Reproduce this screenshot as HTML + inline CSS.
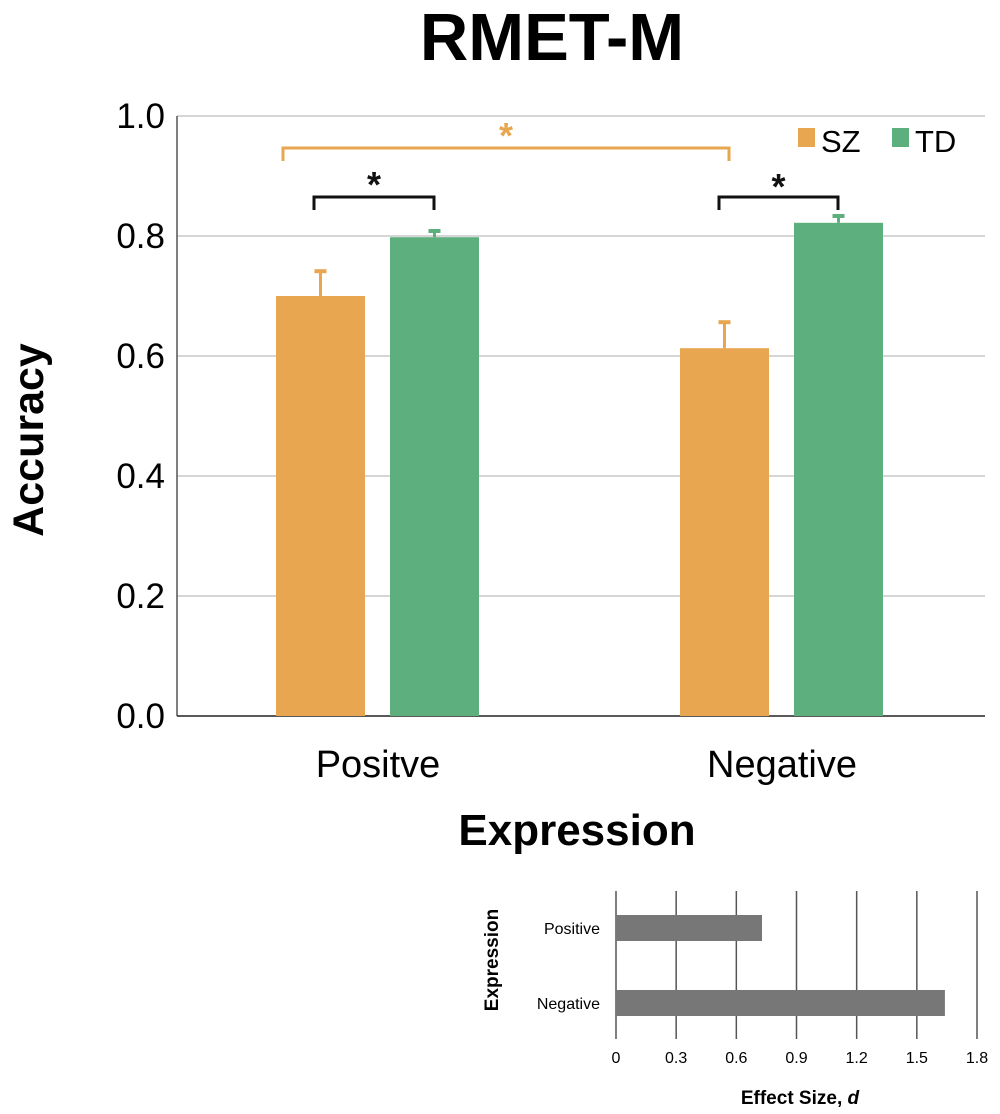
<!DOCTYPE html>
<html><head><meta charset="utf-8"><style>
body{margin:0;background:#fff}
svg{display:block;font-family:"Liberation Sans",Arial,sans-serif}
</style></head><body>
<svg id="c" width="1000" height="1114" xmlns="http://www.w3.org/2000/svg"></svg>
<script>
const categories=["Positve","Negative"];
const szValues=[0.70,0.613];
const szErr=[0.043,0.045];
const tdValues=[0.798,0.822];
const tdErr=[0.012,0.013];
const yTicks=["0.0","0.2","0.4","0.6","0.8","1.0"];
const effCategories=["Positive","Negative"];
const effValues=[0.728,1.64];
const effTicks=["0","0.3","0.6","0.9","1.2","1.5","1.8"];

const svg=document.getElementById('c');
const NS="http://www.w3.org/2000/svg";
function mk(tag,attrs,text){const e=document.createElementNS(NS,tag);for(const k in attrs)e.setAttribute(k,attrs[k]);if(text!=null)e.textContent=text;svg.appendChild(e);return e;}
const y=v=>716-v*600;
const ORANGE="#e8a651",GREEN="#5daf7e";

let t=mk('text',{x:552,y:60,'font-size':67,'font-weight':'bold','text-anchor':'middle'},'RMET-M');


yTicks.forEach((lab,i)=>{const v=parseFloat(lab);
 if(v>0){const g=mk('line',{x1:177,x2:985,y1:y(v),y2:y(v),stroke:'#c8c8c8','stroke-width':1.5});
 }
 const tx=mk('text',{x:165,y:y(v)+12,'font-size':35,'text-anchor':'end'},lab);
 });
let ax=mk('line',{x1:177,x2:177,y1:116,y2:716,stroke:'#555','stroke-width':1.5});

ax=mk('line',{x1:177,x2:985,y1:716,y2:716,stroke:'#222','stroke-width':1.5});


const groupStart=[276,680];
categories.forEach((c,i)=>{
 const x0=groupStart[i];
 [[szValues,szErr,ORANGE,0,'sz'],[tdValues,tdErr,GREEN,114,'td']].forEach(([vals,errs,col,off,n])=>{
  const bx=x0+off,w=89,v=vals[i],e=errs[i];
  const r=mk('rect',{x:bx,y:y(v),width:w,height:716-y(v),fill:col});
  
  const cx=bx+w/2;
  const l=mk('line',{x1:cx,x2:cx,y1:y(v),y2:y(v+e),stroke:col,'stroke-width':3});
  
  const cp=mk('line',{x1:cx-6,x2:cx+6,y1:y(v+e)+1,y2:y(v+e)+1,stroke:col,'stroke-width':4});
  
 });
 const lab=mk('text',{x:x0+102,y:777,'font-size':38,'text-anchor':'middle'},c);
 
});
function bracket(x1,x2,yy,col,name,sy){
 const p=mk('path',{d:`M${x1} ${yy+13}V${yy}H${x2}V${yy+13}`,fill:'none',stroke:col,'stroke-width':3});
 
 const s=mk('text',{x:(x1+x2)/2,y:sy,'font-size':36,'font-weight':'bold','text-anchor':'middle',fill:col},'*');
 
}
bracket(283,729,148,ORANGE,'bracket-sz-between',148);
bracket(314,434,197,'#111','bracket-positive',197);
bracket(719,838,197,'#111','bracket-negative',199);

let lg=mk('rect',{x:798,y:128,width:17,height:19,fill:ORANGE});
lg=mk('text',{x:821,y:152,'font-size':31},'SZ');
lg=mk('rect',{x:892,y:128,width:17,height:19,fill:GREEN});
lg=mk('text',{x:915,y:152,'font-size':31},'TD');

t=mk('text',{x:0,y:0,'font-size':43,'font-weight':'bold','text-anchor':'middle',transform:'translate(43,440) rotate(-90)'},'Accuracy');

t=mk('text',{x:577,y:845,'font-size':44,'font-weight':'bold','text-anchor':'middle'},'Expression');


// effect size chart
const ex=v=>616+v*(361/1.8);
effTicks.forEach(lab=>{const v=parseFloat(lab);
 const g=mk('line',{x1:ex(v),x2:ex(v),y1:891,y2:1039,stroke:'#555','stroke-width':1.5});
 
 const tx=mk('text',{x:ex(v),y:1063,'font-size':16,'text-anchor':'middle'},lab);
 });
const effY=[915,990];
effCategories.forEach((c,i)=>{
 const r=mk('rect',{x:616,y:effY[i],width:ex(effValues[i])-616,height:26,fill:'#777'});
 
 const l=mk('text',{x:600,y:effY[i]+19,'font-size':16,'text-anchor':'end'},c);
 });
t=mk('text',{x:0,y:0,'font-size':19,'font-weight':'bold','text-anchor':'middle',transform:'translate(498,960) rotate(-90)'},'Expression');

t=mk('text',{x:800,y:1104,'font-size':19,'font-weight':'bold','text-anchor':'middle'});
t.innerHTML='Effect Size, <tspan font-style="italic">d</tspan>';

</script>
</body></html>
